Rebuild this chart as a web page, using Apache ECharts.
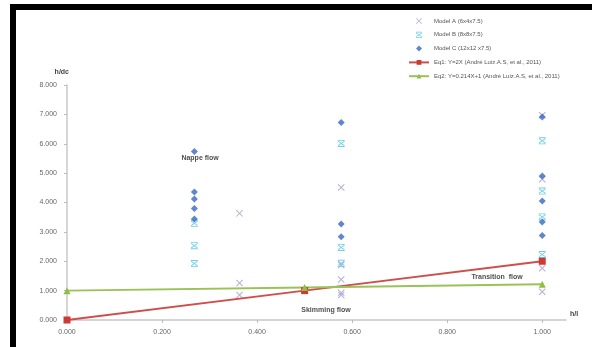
<!DOCTYPE html>
<html>
<head>
<meta charset="utf-8">
<script src="https://cdn.jsdelivr.net/npm/echarts@6/dist/echarts.min.js"></script>
<style>
  html, body { margin: 0; padding: 0; background: #fff; }
  #chart { width: 592px; height: 347px; }
</style>
</head>
<body>
<div id="chart"></div>
<script>
// values: [h/l, h/dc]
const modelA = [
  [0.363, 3.63], [0.363, 1.26], [0.363, 0.85],
  [0.577, 4.51], [0.577, 1.87], [0.577, 1.38], [0.577, 0.93], [0.577, 0.85],
  [1.0, 6.97], [1.0, 4.79], [1.0, 1.76], [1.0, 0.96]
];
const modelB = [
  [0.268, 3.29], [0.268, 2.53], [0.268, 1.92],
  [0.577, 6.01], [0.577, 2.47], [0.577, 1.93],
  [1.0, 6.10], [1.0, 4.39], [1.0, 3.51], [1.0, 2.23]
];
const modelC = [
  [0.268, 5.74], [0.268, 4.36], [0.268, 4.12], [0.268, 3.80], [0.268, 3.44],
  [0.577, 6.72], [0.577, 3.27], [0.577, 2.83],
  [1.0, 6.91], [1.0, 4.90], [1.0, 4.05], [1.0, 3.34], [1.0, 2.88]
];
const eq1 = [[0, 0], [0.5, 1], [1.0, 2]];
const eq2 = [[0, 1], [0.5, 1.107], [1.0, 1.214]];
const seriesNames = [
  'Model A (6x4x7.5)',
  'Model B (8x8x7.5)',
  'Model C (12x12 x7.5)',
  'Eq1: Y=2X (André Luiz.A.S, et al., 2011)',
  'Eq2: Y=0.214X+1 (André Luiz.A.S, et al., 2011)'
];
const notes = [
  { text: 'Nappe flow', x: 0.28, y: 5.5 },
  { text: 'Skimming flow', x: 0.545, y: 0.35 },
  { text: 'Transition  flow', x: 0.905, y: 1.45 }
];

const xMark = 'path://M0,1L1,0L5,4L9,0L10,1L6,5L10,9L9,10L5,6L1,10L0,9L4,5Z';
const xBar = 'path://M0,0L10,0L10,1.3L0,1.3Z M0,8.7L10,8.7L10,10L0,10Z M0,2.3L1,1.3L5,4.3L9,1.3L10,2.3L6,5L10,7.7L9,8.7L5,5.7L1,8.7L0,7.7L4,5Z';
const diamond = 'path://M5,0L10,5L5,10L0,5Z';

const chart = echarts.init(document.getElementById('chart'), null, { renderer: 'canvas' });
const labelStyle = { color: '#666', fontSize: 7, fontFamily: 'Liberation Sans' };

chart.setOption({
  animation: false,
  backgroundColor: '#fff',
  textStyle: { fontFamily: 'Liberation Sans' },
  graphic: [
    { type: 'rect', shape: { x: 10, y: 4, width: 582, height: 6 }, style: { fill: '#000' } },
    { type: 'rect', shape: { x: 10, y: 4, width: 6, height: 343 }, style: { fill: '#000' } }
  ],
  legend: {
    orient: 'vertical',
    left: 408,
    top: 18,
    padding: 0,
    itemWidth: 20,
    itemHeight: 6,
    itemGap: 7.8,
    textStyle: { color: '#555', fontSize: 6 },
    data: seriesNames
  },
  grid: { left: 67, right: 26, top: 85, bottom: 27 },
  xAxis: {
    type: 'value', min: 0, max: 1.05, interval: 0.2,
    name: 'h/l', nameGap: 4,
    nameTextStyle: { color: '#444', fontSize: 7, fontWeight: 'bold', verticalAlign: 'bottom', padding: [0, 0, 2, 0] },
    axisLine: { lineStyle: { color: '#c8c8c8', width: 1.5 } },
    axisTick: { show: true, length: 3, lineStyle: { color: '#bbb' } },
    axisLabel: Object.assign({ margin: 9, showMaxLabel: false, formatter: v => v.toFixed(3) }, labelStyle),
    splitLine: { show: false }
  },
  yAxis: {
    type: 'value', min: 0, max: 8, interval: 1,
    name: 'h/dc', nameGap: 9,
    nameTextStyle: { color: '#444', fontSize: 7, fontWeight: 'bold', align: 'right', padding: [0, -2, 0, 0] },
    axisLine: { show: true, lineStyle: { color: '#c8c8c8', width: 1.5 } },
    axisTick: { show: true, length: 3, lineStyle: { color: '#bbb' } },
    axisLabel: Object.assign({ margin: 10, formatter: v => v.toFixed(3) }, labelStyle),
    splitLine: { show: false }
  },
  series: [
    {
      name: seriesNames[0], type: 'scatter', data: modelA,
      symbol: xMark, symbolSize: 7,
      itemStyle: { color: '#a799cf' }
    },
    {
      name: seriesNames[1], type: 'scatter', data: modelB,
      symbol: xBar, symbolSize: 7,
      itemStyle: { color: '#4cc3dc' }
    },
    {
      name: seriesNames[2], type: 'scatter', data: modelC,
      symbol: diamond, symbolSize: 7,
      itemStyle: { color: '#3868c0' }
    },
    {
      name: seriesNames[3], type: 'line', data: eq1,
      symbol: 'rect', symbolSize: 7, z: 3,
      lineStyle: { color: '#cc4f4a', width: 2 },
      itemStyle: { color: '#cc3a35' }
    },
    {
      name: seriesNames[4], type: 'line', data: eq2,
      symbol: 'triangle', symbolSize: 7, z: 3,
      lineStyle: { color: '#9ac257', width: 2 },
      itemStyle: { color: '#8fbf45' }
    },
    {
      type: 'scatter', silent: true, symbolSize: 0,
      data: notes.map(n => ({ value: [n.x, n.y], name: n.text })),
      label: {
        show: true, position: 'inside', formatter: p => p.name,
        color: '#222', fontSize: 7, fontWeight: 'bold'
      }
    }
  ]
});
</script>
</body>
</html>
